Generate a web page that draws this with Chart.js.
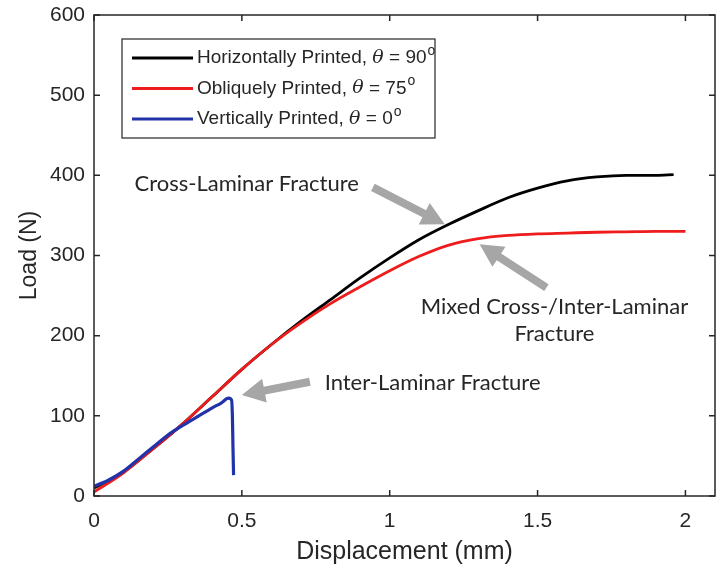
<!DOCTYPE html>
<html>
<head>
<meta charset="utf-8">
<script src="https://cdn.jsdelivr.net/npm/chart.js@4"></script>
<style>
  html, body { margin: 0; padding: 0; background: #fff; }
  #wrap { width: 717px; height: 573px; }
</style>
</head>
<body>
<div id="wrap"><canvas id="loadChart" width="717" height="573"></canvas></div>
<script>
// --- data ---
const dispH = [0, 0.1, 0.2, 0.3, 0.4, 0.5, 0.6, 0.7, 0.8, 0.9, 1.0, 1.1, 1.2, 1.3, 1.4, 1.5, 1.6, 1.7, 1.8, 1.9, 1.96];
const loadH = [10, 30, 59, 90, 124, 158, 189, 218, 245, 272, 297, 320, 339, 356, 372, 384, 393, 398, 400, 400, 401];

const dispO = [0, 0.1, 0.2, 0.3, 0.4, 0.5, 0.6, 0.7, 0.8, 0.9, 1.0, 1.1, 1.2, 1.3, 1.4, 1.5, 1.6, 1.7, 1.8, 1.9, 2.0];
const loadO = [5, 29, 59, 90, 124, 158, 189, 216, 240, 261, 281, 299, 313, 321, 325, 327, 328, 329, 329.5, 330, 330];

const dispV = [0, 0.05, 0.1, 0.15, 0.2, 0.25, 0.3, 0.35, 0.4, 0.43, 0.455, 0.465, 0.468, 0.47, 0.472];
const loadV = [12, 20, 31, 46, 61, 76, 88, 99, 110, 116, 122, 120, 100, 60, 26];

const seriesLabels = ['Horizontally Printed, ', 'Obliquely Printed, ', 'Vertically Printed, '];
const seriesAngles = ['90', '75', '0'];
const seriesColors = ['#000000', '#ee1c1c', '#2233aa'];

const xTicks = [0, 0.5, 1, 1.5, 2];
const yTicks = [0, 100, 200, 300, 400, 500, 600];

// annotations: text anchor + arrow tail/tip in data units
const notes = [
  { lines: ['Cross-Laminar Fracture'], x: 0.137, y: 389, align: 'left', tail: [0.943, 385], tip: [1.186, 339] },
  { lines: ['Mixed Cross-/Inter-Laminar', 'Fracture'], x: 1.557, y: 236, align: 'center', tail: [1.530, 260], tip: [1.304, 314] },
  { lines: ['Inter-Laminar Fracture'], x: 0.780, y: 141, align: 'left', tail: [0.730, 142.5], tip: [0.500, 126] }
];

const toPts = (xs, ys) => xs.map((x, i) => ({ x: x, y: ys[i] }));

const AXIS_FONT = '"Liberation Sans", Arial, sans-serif';
const NOTE_FONT = 'Lato, "Open Sans", sans-serif';

// box, inside ticks on all four sides
const framePlugin = {
  id: 'frame',
  afterDatasetsDraw(chart) {
    const { ctx, chartArea: a, scales } = chart;
    ctx.save();
    ctx.strokeStyle = '#262626';
    ctx.lineWidth = 1.5;
    ctx.strokeRect(a.left, a.top, a.right - a.left, a.bottom - a.top);
    const len = 6;
    ctx.beginPath();
    xTicks.forEach(v => {
      const px = scales.x.getPixelForValue(v);
      ctx.moveTo(px, a.bottom); ctx.lineTo(px, a.bottom - len);
      ctx.moveTo(px, a.top); ctx.lineTo(px, a.top + len);
    });
    yTicks.forEach(v => {
      const py = scales.y.getPixelForValue(v);
      ctx.moveTo(a.left, py); ctx.lineTo(a.left + len, py);
      ctx.moveTo(a.right, py); ctx.lineTo(a.right - len, py);
    });
    ctx.stroke();
    ctx.restore();
  }
};

function drawArrow(ctx, x0, y0, x1, y1) {
  const ang = Math.atan2(y1 - y0, x1 - x0);
  const headLen = 23, headW = 12, shaft = 4;
  const len = Math.hypot(x1 - x0, y1 - y0);
  ctx.save();
  ctx.translate(x0, y0);
  ctx.rotate(ang);
  ctx.fillStyle = '#a6a6a6';
  ctx.beginPath();
  ctx.moveTo(0, -shaft);
  ctx.lineTo(len - headLen, -shaft);
  ctx.lineTo(len - headLen, -headW);
  ctx.lineTo(len, 0);
  ctx.lineTo(len - headLen, headW);
  ctx.lineTo(len - headLen, shaft);
  ctx.lineTo(0, shaft);
  ctx.closePath();
  ctx.fill();
  ctx.restore();
}

const notesPlugin = {
  id: 'notes',
  afterDatasetsDraw(chart) {
    const { ctx, scales } = chart;
    ctx.save();
    notes.forEach(n => {
      drawArrow(ctx,
        scales.x.getPixelForValue(n.tail[0]), scales.y.getPixelForValue(n.tail[1]),
        scales.x.getPixelForValue(n.tip[0]), scales.y.getPixelForValue(n.tip[1]));
      ctx.font = '22px ' + NOTE_FONT;
      ctx.fillStyle = '#262626';
      ctx.textAlign = n.align;
      ctx.textBaseline = 'middle';
      const px = scales.x.getPixelForValue(n.x);
      const py = scales.y.getPixelForValue(n.y);
      n.lines.forEach((t, i) => ctx.fillText(t, px, py + i * 27));
    });
    ctx.restore();
  }
};

// MATLAB-like legend box in the upper left
const legendPlugin = {
  id: 'boxLegend',
  afterDatasetsDraw(chart) {
    const { ctx, chartArea: a } = chart;
    const bx = a.left + 28, by = a.top + 24, bw = 313, bh = 99;
    ctx.save();
    ctx.fillStyle = '#fff';
    ctx.fillRect(bx, by, bw, bh);
    ctx.strokeStyle = '#262626';
    ctx.lineWidth = 1.2;
    ctx.strokeRect(bx, by, bw, bh);
    ctx.textBaseline = 'middle';
    ctx.textAlign = 'left';
    seriesLabels.forEach((lab, i) => {
      const y = by + 19 + i * 30.5;
      ctx.strokeStyle = seriesColors[i];
      ctx.lineWidth = 3;
      ctx.beginPath();
      ctx.moveTo(bx + 10, y); ctx.lineTo(bx + 71, y);
      ctx.stroke();
      ctx.fillStyle = '#262626';
      let x = bx + 75;
      ctx.font = '19px ' + AXIS_FONT;
      ctx.fillText(lab, x, y);
      x += ctx.measureText(lab).width;
      ctx.font = 'italic 19px "DejaVu Serif", serif';
      ctx.fillText('\u03b8', x, y);
      x += ctx.measureText('\u03b8').width;
      ctx.font = '19px ' + AXIS_FONT;
      const rest = ' = ' + seriesAngles[i];
      ctx.fillText(rest, x, y);
      x += ctx.measureText(rest).width + 1;
      ctx.font = '14px ' + AXIS_FONT;
      ctx.fillText('o', x, y - 7);
    });
    ctx.restore();
  }
};

new Chart(document.getElementById('loadChart'), {
  type: 'line',
  data: {
    datasets: [
      { label: seriesLabels[0] + 'θ = ' + seriesAngles[0] + '°', data: toPts(dispH, loadH), borderColor: seriesColors[0], borderWidth: 2.8, order: 3 },
      { label: seriesLabels[1] + 'θ = ' + seriesAngles[1] + '°', data: toPts(dispO, loadO), borderColor: seriesColors[1], borderWidth: 2.8, order: 2 },
      { label: seriesLabels[2] + 'θ = ' + seriesAngles[2] + '°', data: toPts(dispV, loadV), borderColor: seriesColors[2], borderWidth: 3.2, order: 1 }
    ]
  },
  options: {
    responsive: false,
    animation: false,
    events: [],
    elements: { point: { radius: 0 }, line: { cubicInterpolationMode: 'monotone' } },
    layout: { padding: { top: 15, right: 2, left: 0, bottom: 0 } },
    plugins: { legend: { display: false }, tooltip: { enabled: false } },
    scales: {
      x: {
        type: 'linear', min: 0, max: 2.1,
        afterFit: s => { s.height = 77; s.paddingLeft = 0; s.paddingRight = 0; },
        afterBuildTicks: s => { s.ticks = xTicks.map(v => ({ value: v })); },
        ticks: { padding: 13, color: '#262626', font: { family: AXIS_FONT, size: 21 }, maxRotation: 0, callback: v => String(v) },
        grid: { display: false, drawTicks: false },
        border: { display: false },
        title: { display: true, text: 'Displacement (mm)', color: '#262626', font: { family: AXIS_FONT, size: 25 }, padding: { top: 4, bottom: 6 } }
      },
      y: {
        min: 0, max: 600,
        afterFit: s => { s.width = 94; s.paddingTop = 0; s.paddingBottom = 0; },
        afterBuildTicks: s => { s.ticks = yTicks.map(v => ({ value: v })); },
        ticks: { padding: 9, color: '#262626', font: { family: AXIS_FONT, size: 21 } },
        grid: { display: false, drawTicks: false },
        border: { display: false },
        title: { display: true, text: 'Load (N)', color: '#262626', font: { family: AXIS_FONT, size: 23 }, padding: { top: 16, bottom: 4 } }
      }
    }
  },
  plugins: [framePlugin, notesPlugin, legendPlugin]
});
</script>
</body>
</html>
